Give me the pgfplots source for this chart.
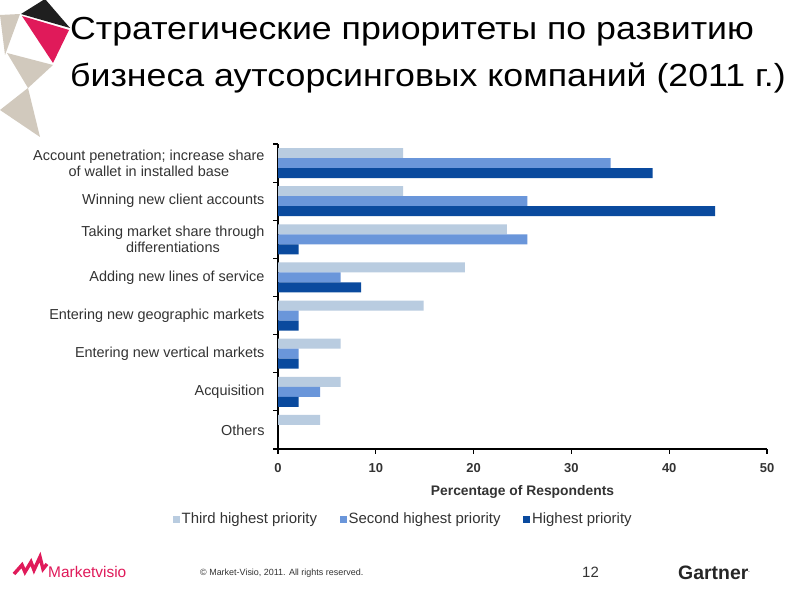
\documentclass[border=0pt]{standalone}
\usepackage{pgfplots}
\pgfplotsset{compat=1.18}
\usepackage{fontspec}
\setmainfont{Liberation Sans}
\definecolor{cThird}{HTML}{B9CCE0}
\definecolor{cSecond}{HTML}{6A96DA}
\definecolor{cHigh}{HTML}{0A4A9E}
\definecolor{beige}{HTML}{D1C9BD}
\definecolor{pinkr}{HTML}{E01A5A}
\definecolor{txt}{HTML}{333333}
\begin{document}
\begin{tikzpicture}[x=1bp,y=1bp]
\path[use as bounding box, fill=white] (0,0) rectangle (800,600);
% decorative triangles
\fill[beige] (0,585) -- (20,586) -- (5,545) -- cycle;
\fill[beige] (7,547) -- (53,535) -- (28,512) -- cycle;
\fill[beige] (0,490) -- (28,512) -- (40,463) -- cycle;
\fill[black!88] (21,586) -- (45,601) -- (70,572) -- cycle;
\fill[pinkr] (22,584) -- (69,570) -- (53,537) -- cycle;
% title
\node[anchor=base west, inner sep=0, font=\fontsize{32}{36}\selectfont] at (70,560) {\scalebox{1.12}[1]{Стратегические приоритеты по развитию}};
\node[anchor=base west, inner sep=0, font=\fontsize{32}{36}\selectfont] at (70,513) {\scalebox{1.12}[1]{бизнеса аутсорсинговых компаний (2011 г.)}};
\begin{axis}[
  at={(278bp,151bp)}, anchor=south west,
  width=489bp, height=305bp, scale only axis,
  xmin=0, xmax=50, ymin=-0.5, ymax=7.5,
  axis x line=bottom, axis y line=left, axis line style={-, black, line width=1.5bp},
  xtick={0,10,...,50},
  ytick={-0.5,0.5,...,7.5}, yticklabels={},
  extra y ticks={0,1,...,7},
  extra y tick labels={Others, Acquisition, Entering new vertical markets, Entering new geographic markets, Adding new lines of service, {Taking market share through\\differentiations}, Winning new client accounts, {Account penetration; increase share\\of wallet in installed base}},
  extra y tick style={major tick length=0pt, tick style={draw=none}},
  tick align=outside, major tick length=5bp,
  tick style={black, line width=1.2bp},
  yticklabel style={align=center, font=\fontsize{14.5}{16}\selectfont, text=txt, xshift=-10bp},
  xticklabel style={font=\bfseries\fontsize{13}{15}\selectfont, text=txt, yshift=-6bp},
  /pgf/number format/assume math mode=true,
  xlabel={Percentage of Respondents},
  xlabel style={at={(axis description cs:0.5,-0.141)}, anchor=center, font=\bfseries\fontsize{13.9}{15}\selectfont, text=txt},
  legend style={at={(axis description cs:0.256,-0.23)}, anchor=center, legend columns=3, draw=none, fill=none,
    font=\fontsize{15}{17}\selectfont, text=txt,
    /tikz/every even column/.append style={column sep=20.5bp}},
  legend image code/.code={\path[#1,draw=none] (0bp,-3.5bp) rectangle (7bp,3.5bp);},
  bar width=0.262,
]
\addplot[xbar, fill=cThird, draw=none, bar shift=0.262] coordinates {(12.8,7) (12.8,6) (23.4,5) (19.1,4) (14.9,3) (6.4,2) (6.4,1) (4.3,0)};
\addplot[xbar, fill=cSecond, draw=none, bar shift=0] coordinates {(34.0,7) (25.5,6) (25.5,5) (6.4,4) (2.1,3) (2.1,2) (4.3,1)};
\addplot[xbar, fill=cHigh, draw=none, bar shift=-0.262] coordinates {(38.3,7) (44.7,6) (2.1,5) (8.5,4) (2.1,3) (2.1,2) (2.1,1)};
\legend{Third highest priority, Second highest priority, Highest priority}
\end{axis}
% footer
\draw[pinkr, line width=3.5bp, line join=miter] (14,26) -- (22,35) -- (25,28) -- (31,38) -- (34,30) -- (40,43) -- (43,31) -- (47,36);
\node[anchor=base west, inner sep=0, text=pinkr, font=\fontsize{15.5}{17}\selectfont] at (48,22) {Marketvisio};
\node[anchor=base west, inner sep=0, text=txt, font=\fontsize{9}{10}\selectfont] at (200,24) {© Market-Visio, 2011. All rights reserved.};
\node[anchor=base west, inner sep=0, text=txt, font=\fontsize{15}{17}\selectfont] at (582,22) {12};
\node[anchor=base west, inner sep=0, text=black!85, font=\bfseries\fontsize{19.5}{21}\selectfont] at (678,20) {Gartner\textsuperscript{\tiny.}};
\end{tikzpicture}
\end{document}
